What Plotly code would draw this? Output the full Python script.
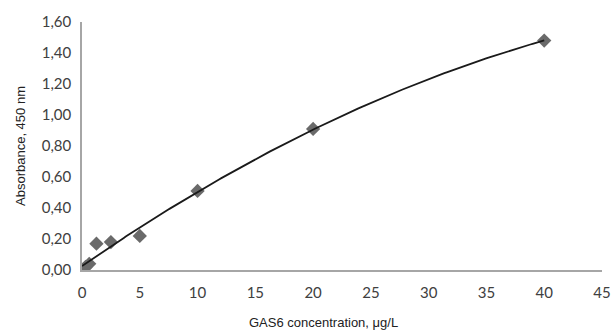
import numpy as np
import plotly.graph_objects as go

# Data
conc = [0, 0.3125, 0.625, 1.25, 2.5, 5, 10, 20, 40]
absorb = [0.00, 0.02, 0.04, 0.17, 0.18, 0.22, 0.51, 0.91, 1.48]
x_ticks = [0, 5, 10, 15, 20, 25, 30, 35, 40, 45]
y_ticks = [0.0, 0.2, 0.4, 0.6, 0.8, 1.0, 1.2, 1.4, 1.6]

# Polynomial (order 2) trendline fitted to the data
coef = np.polyfit(conc, absorb, 2)
xf = np.linspace(min(conc), max(conc), 200)
yf = np.polyval(coef, xf)

fig = go.Figure()
fig.add_trace(go.Scatter(x=conc, y=absorb, mode="markers",
                         marker=dict(symbol="diamond", size=11, color="#6a6a6a"),
                         showlegend=False))
fig.add_trace(go.Scatter(x=xf, y=yf, mode="lines",
                         line=dict(color="#1a1a1a", width=1.8),
                         showlegend=False))

tickfont = dict(family="Lato, Carlito, sans-serif", size=15, color="#404040")
fig.update_layout(
    width=613, height=331,
    margin=dict(l=82, r=11, t=22, b=61, autoexpand=False),
    plot_bgcolor="white", paper_bgcolor="white",
    separators=", ",
    xaxis=dict(range=[0, 45], tickvals=x_ticks, showgrid=False, zeroline=False,
               showline=True, linecolor="#a6a6a6", linewidth=1.5, automargin=False,
               tickfont=tickfont, ticks="", ticklen=0, ticklabelstandoff=8),
    yaxis=dict(range=[0, 1.6], tickvals=y_ticks, tickformat=".2f", showgrid=False,
               zeroline=False, showline=True, linecolor="#a6a6a6", linewidth=1.5,
               automargin=False,
               tickfont=tickfont, ticks="", ticklen=0, ticklabelstandoff=6),
    annotations=[
        dict(text="GAS6 concentration, μg/L", x=0.464, y=0, xref="paper", yref="paper",
             yshift=-52, xanchor="center", yanchor="middle", showarrow=False,
             font=dict(family="Liberation Sans, Arial", size=13, color="#222")),
        dict(text="Absorbance, 450 nm", x=0, y=0.5, xref="paper", yref="paper",
             xshift=-62, textangle=-90, xanchor="center", yanchor="middle", showarrow=False,
             font=dict(family="Liberation Sans, Arial", size=13, color="#222")),
    ],
)
fig.write_html("out.html", config={"displayModeBar": False},
               post_script="document.body.style.margin='0';document.body.style.overflow='hidden';")
